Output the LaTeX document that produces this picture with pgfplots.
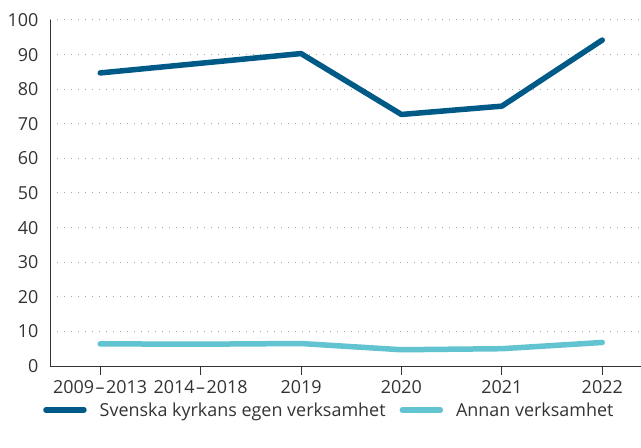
\documentclass[border=0pt]{standalone}
\usepackage{fontspec}
\setmainfont{Open Sans}
\usepackage{pgfplots}
\pgfplotsset{compat=1.18}
\definecolor{darkb}{HTML}{005A87}
\definecolor{lightb}{HTML}{62C3D1}
\definecolor{txt}{HTML}{333333}
\begin{document}
\begin{tikzpicture}
\path[use as bounding box] (-50bp,-82bp) rectangle (591bp,366bp);
\begin{axis}[
  at={(0,0)}, anchor=south west,
  scale only axis, width=591bp, height=346bp,
  xmin=-0.5, xmax=5.386, ymin=0, ymax=100,
  axis x line=bottom, axis y line=left,
  axis line style={-, draw=txt, line width=0.9bp},
  xtick={0,1,2,3,4,5},
  xticklabels={2009\kern1.5bp–\kern1.5bp2013,2014\kern1.5bp–\kern1.5bp2018,2019,2020,2021,2022},
  ytick={0,10,...,100},
  ymajorgrids, grid style={draw=gray!70, line width=1bp, dash pattern=on 1bp off 6bp},
  tick align=outside,
  xtick style={draw=txt, line width=0.9bp},
  major tick length=9bp,
  ytick style={draw=none},
  /pgf/number format/assume math mode=true,
  tick label style={font=\fontsize{18}{21}\selectfont, text=txt},
  xticklabel style={yshift=-2bp},
  yticklabel style={xshift=1bp},
  legend style={at={(-0.0118,-0.127)}, anchor=west, draw=none, fill=none, inner sep=0pt,
    font=\fontsize{18}{21}\selectfont, text=txt,
    /tikz/every odd column/.style={column sep=11bp},
    /tikz/every even column/.style={column sep=12bp}},
  legend columns=2,
  legend cell align=left,
  legend image code/.code={\draw[#1, line width=5.5bp, line cap=round] (0bp,0bp) -- (38bp,0bp);},
  clip=false,
]
\addplot[darkb, line width=5.5bp, line cap=round, line join=round] coordinates {
 (0,84.7) (1,87.5) (2,90.3) (3,72.7) (4,75.1) (5,94.2)};
\addlegendentry{Svenska kyrkans egen verksamhet}
\addplot[lightb, line width=5.5bp, line cap=round, line join=round] coordinates {
 (0,6.4) (1,6.3) (2,6.5) (3,4.7) (4,5.0) (5,6.8)};
\addlegendentry{Annan verksamhet}
\end{axis}
\end{tikzpicture}
\end{document}
